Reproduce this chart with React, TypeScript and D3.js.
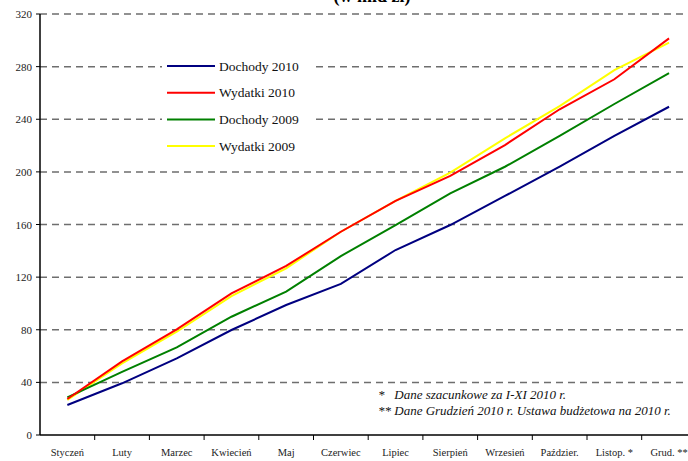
import React from 'react';
import * as d3 from 'd3';

const months = [
  'Styczeń', 'Luty', 'Marzec', 'Kwiecień', 'Maj', 'Czerwiec',
  'Lipiec', 'Sierpień', 'Wrzesień', 'Paździer.', 'Listop. *', 'Grud. **',
];

const dochody2010 = [22.8, 39.3, 58.3, 79.8, 98.8, 114.8, 140.6, 159.6, 181.7, 204, 227.3, 249.5];
const wydatki2010 = [27.4, 56, 80.3, 107.7, 128.5, 154.5, 178, 197, 220.4, 247.6, 270.4, 301.5];
const dochody2009 = [28.6, 48, 66.6, 89.9, 109, 136, 159.6, 183.7, 203.9, 227.3, 251.6, 275];
const wydatki2009 = [26.6, 54.5, 78.5, 105.6, 126.7, 154.5, 178, 199.4, 225.5, 250, 277.4, 298.2];

const yTicks = [0, 40, 80, 120, 160, 200, 240, 280, 320];

const seriesNames = ['Dochody 2010', 'Wydatki 2010', 'Dochody 2009', 'Wydatki 2009'];
const seriesColors = ['#000080', '#ff0000', '#008000', '#ffff00'];

const footnotes = [
  '*   Dane szacunkowe za I-XI 2010 r.',
  '** Dane Grudzień 2010 r. Ustawa budżetowa na 2010 r.',
];

const App = () => {
  const width = 688;
  const height = 461;
  const margin = { top: 14, left: 40, bottom: 26 };
  const plotRight = margin.left + 12 * 54.7;

  const x = d3.scaleBand<string>().domain(months).range([margin.left, plotRight]);
  const y = d3.scaleLinear().domain([0, 320]).range([height - margin.bottom, margin.top]);

  const line = d3
    .line<number>()
    .x((d, i) => (x(months[i]) as number) + x.bandwidth() / 2)
    .y((d) => y(d));

  const allSeries = [dochody2010, wydatki2010, dochody2009, wydatki2009];
  // drawing order: yellow below red
  const drawOrder = [3, 2, 0, 1];

  const font = "'Liberation Serif', 'DejaVu Serif', serif";

  return (
    <svg
      width={width}
      height={height}
      style={{ position: 'absolute', left: 0, top: 0, background: '#fff', fontFamily: font }}
    >
      <rect width={width} height={height} fill="#fff" />
      <text x={372} y={2} textAnchor="middle" fontWeight="bold" fontSize={18}>
        (w mld zł)
      </text>

      {/* grid lines */}
      {yTicks.filter((t) => t > 0).map((t) => (
        <line
          key={t}
          x1={margin.left}
          x2={width}
          y1={y(t)}
          y2={y(t)}
          stroke="#6e6e6e"
          strokeWidth={1.5}
          strokeDasharray="7,5"
        />
      ))}

      {/* y axis */}
      <line x1={margin.left} x2={margin.left} y1={y(320)} y2={y(0)} stroke="#000" strokeWidth={1.5} />
      {yTicks.map((t) => (
        <g key={t}>
          <line x1={margin.left - 4} x2={margin.left} y1={y(t)} y2={y(t)} stroke="#000" />
          <text x={margin.left - 8} y={y(t) + 4} textAnchor="end" fontSize={11} fill="#222">
            {t}
          </text>
        </g>
      ))}

      {/* x axis */}
      <line x1={margin.left} x2={width} y1={y(0)} y2={y(0)} stroke="#000" strokeWidth={1.5} />
      {months.map((m) => (
        <g key={m}>
          <line
            x1={(x(m) as number) + x.bandwidth()}
            x2={(x(m) as number) + x.bandwidth()}
            y1={y(0)}
            y2={y(0) + 5}
            stroke="#000"
          />
          <text
            x={(x(m) as number) + x.bandwidth() / 2}
            y={456}
            textAnchor="middle"
            fontSize={10.5}
            fill="#222"
          >
            {m}
          </text>
        </g>
      ))}

      {/* series */}
      {drawOrder.map((i) => (
        <path
          key={seriesNames[i]}
          d={line(allSeries[i]) as string}
          fill="none"
          stroke={seriesColors[i]}
          strokeWidth={2}
        />
      ))}

      {/* legend */}
      <rect x={162} y={55} width={150} height={100} fill="#fff" />
      {seriesNames.map((name, i) => (
        <g key={name} transform={`translate(167, ${66 + i * 26.7})`}>
          <line x1={0} x2={48} y1={0} y2={0} stroke={seriesColors[i]} strokeWidth={2} />
          <text x={52} y={4.5} fontSize={13.5} fill="#111">
            {name}
          </text>
        </g>
      ))}

      {/* footnotes */}
      {footnotes.map((f, i) => (
        <text key={f} x={378} y={399 + i * 16} fontSize={13} fontStyle="italic" fill="#111" xmlSpace="preserve">
          {f}
        </text>
      ))}
    </svg>
  );
};

export default App;
